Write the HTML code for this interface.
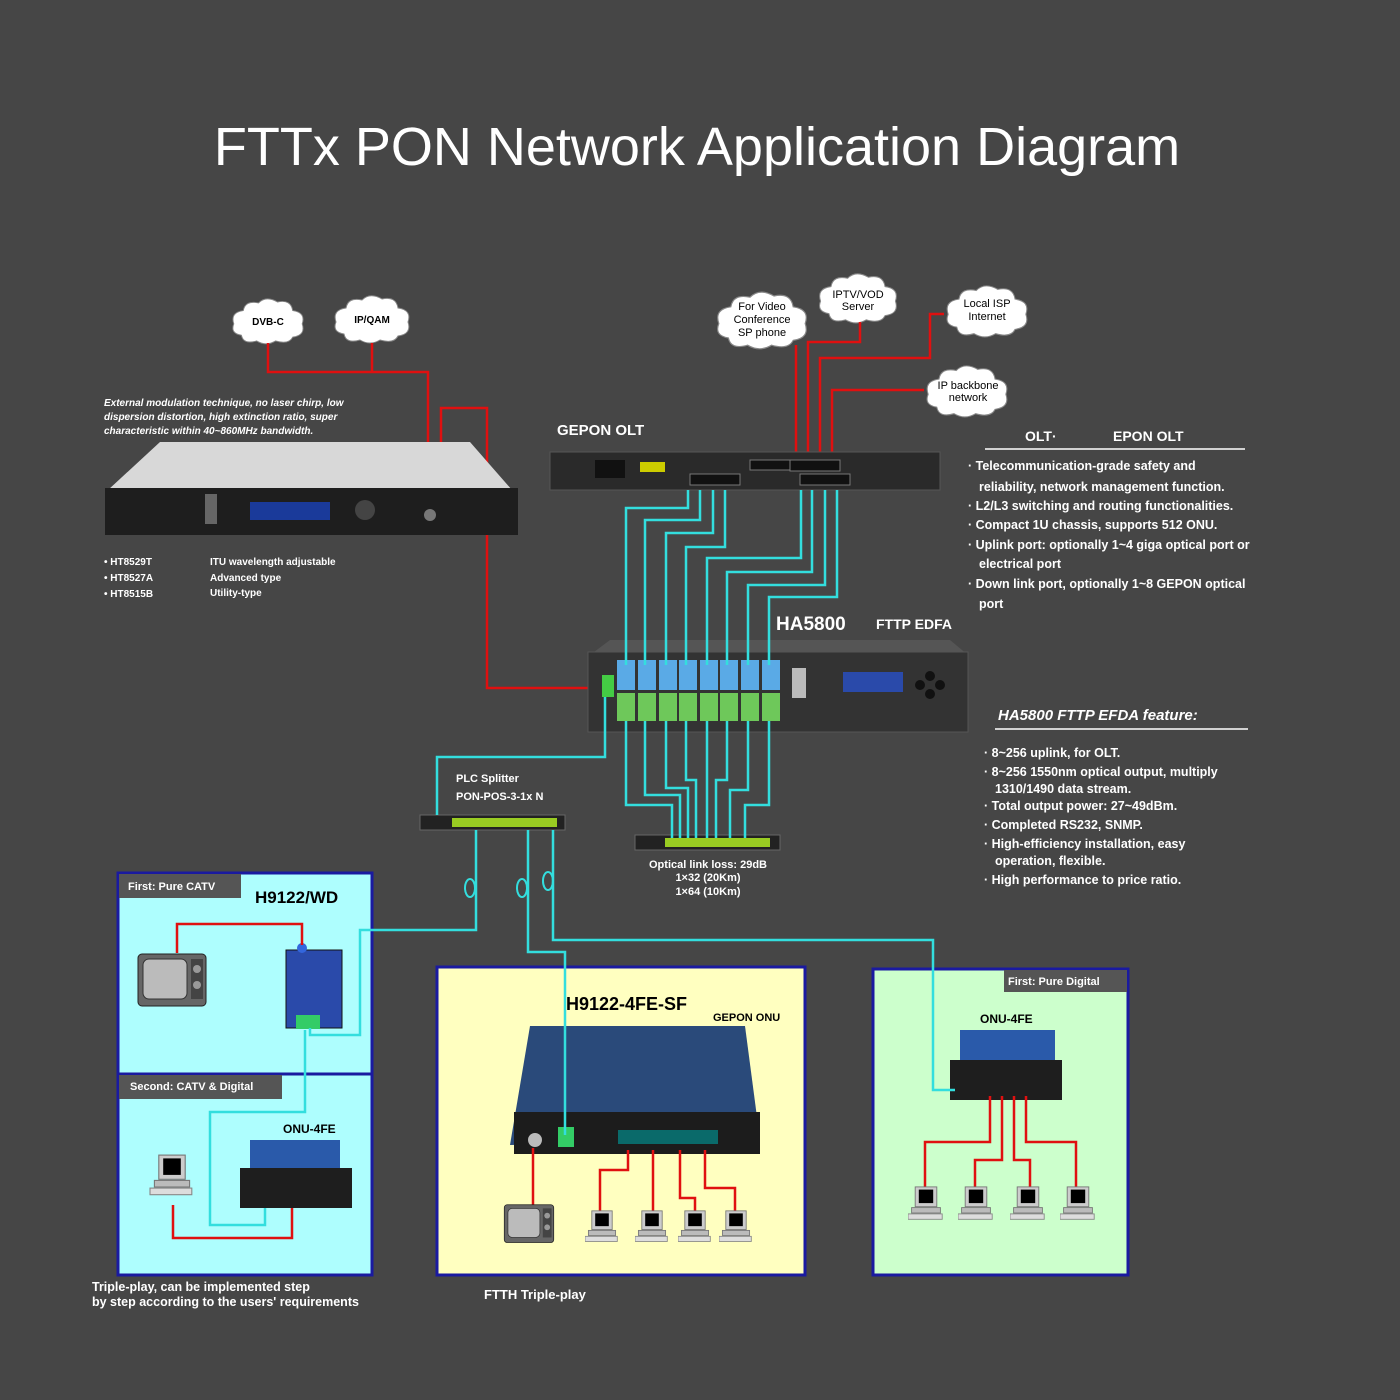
<!DOCTYPE html>
<html><head><meta charset="utf-8"><style>
html,body{margin:0;padding:0;background:#464646;}
svg{display:block}
text{font-family:"Liberation Sans",sans-serif;fill:#fff}
</style></head><body>
<svg width="1400" height="1400" viewBox="0 0 1400 1400" xmlns="http://www.w3.org/2000/svg">
<defs>
<symbol id="tv" viewBox="0 0 70 55"><rect x="1" y="1" width="68" height="52" rx="4" fill="#666" stroke="#222"/><rect x="6" y="6" width="44" height="40" rx="6" fill="#bbb" stroke="#333"/><rect x="54" y="6" width="12" height="40" fill="#444"/><circle cx="60" cy="16" r="4" fill="#999"/><circle cx="60" cy="32" r="4" fill="#999"/></symbol>
<symbol id="pc" viewBox="0 0 40 40"><rect x="8" y="1" width="24" height="22" fill="#ccc" stroke="#777"/><rect x="12" y="4" width="16" height="15" fill="#000"/><rect x="4" y="24" width="32" height="6" fill="#bbb" stroke="#777"/><rect x="0" y="31" width="38" height="6" fill="#ddd" stroke="#888"/></symbol>
<symbol id="cloud" viewBox="0 0 80 50"><path d="M12 40 Q0 38 4 28 Q0 16 14 14 Q16 3 30 6 Q38 -2 50 5 Q64 2 66 14 Q80 16 76 28 Q80 40 66 42 Q62 50 48 46 Q38 52 28 46 Q14 50 12 40Z" fill="#fff" stroke="#888"/></symbol>
</defs>
<rect width="1400" height="1400" fill="#464646"/>
<text x="697" y="165" font-size="54" text-anchor="middle" fill="#fff">FTTx  PON Network Application Diagram</text>

<!-- clouds -->
<use href="#cloud" x="230" y="296" width="76" height="50"/><text x="268" y="325" font-size="10" font-weight="bold" text-anchor="middle" style="fill:#000">DVB-C</text>
<use href="#cloud" x="332" y="294" width="80" height="50"/><text x="372" y="323" font-size="10" font-weight="bold" text-anchor="middle" style="fill:#000">IP/QAM</text>
<use href="#cloud" x="714" y="290" width="96" height="60"/><text x="762" y="310" font-size="11" text-anchor="middle" style="fill:#000">For Video</text><text x="762" y="323" font-size="11" text-anchor="middle" style="fill:#000">Conference</text><text x="762" y="336" font-size="11" text-anchor="middle" style="fill:#000">SP phone</text>
<use href="#cloud" x="814" y="272" width="88" height="52"/><text x="858" y="298" font-size="11" text-anchor="middle" style="fill:#000">IPTV/VOD</text><text x="858" y="310" font-size="11" text-anchor="middle" style="fill:#000">Server</text>
<use href="#cloud" x="940" y="284" width="94" height="54"/><text x="987" y="307" font-size="11" text-anchor="middle" style="fill:#000">Local ISP</text><text x="987" y="320" font-size="11" text-anchor="middle" style="fill:#000">Internet</text>
<use href="#cloud" x="920" y="364" width="94" height="54"/><text x="968" y="389" font-size="11" text-anchor="middle" style="fill:#000">IP backbone</text><text x="968" y="401" font-size="11" text-anchor="middle" style="fill:#000">network</text>

<!-- red lines -->
<g stroke="#e01010" stroke-width="2.5" fill="none">
<path d="M268 343V372H428V442"/><path d="M372 343V372"/>
<path d="M441 442V408H487V688H605"/>
<path d="M796 458V345"/><path d="M808 458V342H860V322"/><path d="M820 458V358H930V314H944"/><path d="M832 458V390H924"/>
</g>

<!-- transmitter -->
<text font-size="10" font-style="italic" font-weight="bold"><tspan x="104" y="406">External modulation technique, no laser chirp, low</tspan><tspan x="104" y="420">dispersion distortion, high extinction ratio, super</tspan><tspan x="104" y="434">characteristic within 40~860MHz bandwidth.</tspan></text>
<polygon points="160,442 470,442 512,490 108,490" fill="#d8d8d8"/>
<rect x="105" y="488" width="413" height="47" fill="#1e1e1e"/>
<rect x="250" y="502" width="80" height="18" fill="#1a3a9a"/>
<circle cx="365" cy="510" r="10" fill="#444"/><circle cx="430" cy="515" r="6" fill="#777"/>
<rect x="205" y="494" width="12" height="30" fill="#666"/>
<g font-size="10" font-weight="bold"><text x="104" y="565">• HT8529T</text><text x="104" y="581">• HT8527A</text><text x="104" y="597">• HT8515B</text><text x="210" y="565">ITU wavelength adjustable</text><text x="210" y="581">Advanced type</text><text x="210" y="596">Utility-type</text></g>

<!-- OLT -->
<text x="557" y="435" font-size="15" font-weight="bold">GEPON  OLT</text>
<rect x="550" y="452" width="390" height="38" fill="#2a2a2a" stroke="#555"/>
<rect x="595" y="460" width="30" height="18" fill="#111"/><rect x="640" y="462" width="25" height="10" fill="#cc0"/>
<g fill="#111" stroke="#777"><rect x="690" y="474" width="50" height="11"/><rect x="790" y="460" width="50" height="11"/><rect x="800" y="474" width="50" height="11"/><rect x="750" y="460" width="40" height="10"/></g>
<text x="1025" y="441" font-size="14" font-weight="bold">OLT·</text><text x="1113" y="441" font-size="14" font-weight="bold">EPON OLT</text>
<line x1="985" y1="449" x2="1245" y2="449" stroke="#fff" stroke-width="1.5"/>
<g font-size="12.5" font-weight="bold"><text x="968" y="470">· Telecommunication-grade safety and</text><text x="979" y="491">reliability, network management function.</text><text x="968" y="510">· L2/L3 switching and routing functionalities.</text><text x="968" y="529">· Compact 1U chassis, supports 512 ONU.</text><text x="968" y="549">· Uplink port: optionally 1~4 giga optical port or</text><text x="979" y="568">electrical port</text><text x="968" y="588">· Down link port, optionally 1~8 GEPON optical</text><text x="979" y="608">port</text></g>

<!-- EDFA -->
<text x="776" y="630" font-size="19" font-weight="bold">HA5800</text><text x="876" y="629" font-size="14" font-weight="bold">FTTP  EDFA</text>
<polygon points="610,640 950,640 968,655 590,655" fill="#555"/>
<rect x="588" y="652" width="380" height="80" fill="#333" stroke="#555"/>
<g>
<rect x="617" y="660" width="18" height="30" fill="#5aaae6"/><rect x="638" y="660" width="18" height="30" fill="#5aaae6"/><rect x="659" y="660" width="18" height="30" fill="#5aaae6"/><rect x="679" y="660" width="18" height="30" fill="#5aaae6"/><rect x="700" y="660" width="18" height="30" fill="#5aaae6"/><rect x="720" y="660" width="18" height="30" fill="#5aaae6"/><rect x="741" y="660" width="18" height="30" fill="#5aaae6"/><rect x="762" y="660" width="18" height="30" fill="#5aaae6"/>
<rect x="617" y="693" width="18" height="28" fill="#6ec85a"/><rect x="638" y="693" width="18" height="28" fill="#6ec85a"/><rect x="659" y="693" width="18" height="28" fill="#6ec85a"/><rect x="679" y="693" width="18" height="28" fill="#6ec85a"/><rect x="700" y="693" width="18" height="28" fill="#6ec85a"/><rect x="720" y="693" width="18" height="28" fill="#6ec85a"/><rect x="741" y="693" width="18" height="28" fill="#6ec85a"/><rect x="762" y="693" width="18" height="28" fill="#6ec85a"/>
<rect x="602" y="675" width="12" height="22" fill="#4c4"/>
</g>
<rect x="792" y="668" width="14" height="30" fill="#bbb"/><rect x="843" y="672" width="60" height="20" fill="#2a4aaa"/>
<circle cx="930" cy="676" r="5" fill="#111"/><circle cx="930" cy="694" r="5" fill="#111"/><circle cx="920" cy="685" r="5" fill="#111"/><circle cx="940" cy="685" r="5" fill="#111"/>

<!-- EDFA feature -->
<text x="998" y="720" font-size="15" font-weight="bold" font-style="italic">HA5800  FTTP  EFDA feature:</text>
<line x1="995" y1="729" x2="1248" y2="729" stroke="#fff" stroke-width="1.5"/>
<g font-size="12.5" font-weight="bold"><text x="984" y="757">· 8~256 uplink, for OLT.</text><text x="984" y="776">· 8~256 1550nm optical output, multiply</text><text x="995" y="793">1310/1490 data stream.</text><text x="984" y="810">· Total output power: 27~49dBm.</text><text x="984" y="829">· Completed RS232, SNMP.</text><text x="984" y="848">· High-efficiency installation, easy</text><text x="995" y="865">operation, flexible.</text><text x="984" y="884">· High performance to price ratio.</text></g>

<!-- splitters -->
<text x="456" y="782" font-size="11" font-weight="bold">PLC  Splitter</text><text x="456" y="800" font-size="11" font-weight="bold">PON-POS-3-1x N</text>
<rect x="420" y="815" width="145" height="15" fill="#222" stroke="#666"/><rect x="452" y="818" width="105" height="9" fill="#9c2"/>
<rect x="635" y="835" width="145" height="15" fill="#222" stroke="#666"/><rect x="665" y="838" width="105" height="9" fill="#9c2"/>
<g font-size="11" font-weight="bold" text-anchor="middle"><text x="708" y="868">Optical link loss: 29dB</text><text x="708" y="881">1×32 (20Km)</text><text x="708" y="895">1×64 (10Km)</text></g>

<!-- left box -->
<rect x="118" y="873" width="254" height="402" fill="#aefefe" stroke="#1a1aa0" stroke-width="3"/>
<line x1="118" y1="1074" x2="372" y2="1074" stroke="#1a1aa0" stroke-width="3"/>
<rect x="119" y="874" width="122" height="24" fill="#555"/><text x="128" y="890" font-size="11" font-weight="bold">First:  Pure  CATV</text>
<rect x="119" y="1075" width="163" height="24" fill="#555"/><text x="130" y="1090" font-size="11" font-weight="bold">Second:  CATV  &amp;  Digital</text>
<text x="255" y="903" font-size="17" font-weight="bold" style="fill:#000">H9122/WD</text>
<text x="283" y="1133" font-size="12" font-weight="bold" style="fill:#000">ONU-4FE</text>
<rect x="286" y="950" width="56" height="78" fill="#2a4aaa" stroke="#111"/><circle cx="302" cy="948" r="5" fill="#36d"/><rect x="296" y="1015" width="24" height="14" fill="#3c6"/>
<use href="#tv" x="137" y="953" width="70" height="55"/>
<rect x="250" y="1140" width="90" height="30" fill="#2a5aaa"/><rect x="240" y="1168" width="112" height="40" fill="#1e1e1e"/>
<use href="#pc" x="146" y="1154" width="52" height="44"/>
<g stroke="#e01010" stroke-width="2.5" fill="none"><path d="M302 945V924H177V953"/><path d="M173 1205V1238H292V1208"/></g>
<text x="92" y="1291" font-size="12.5" font-weight="bold">Triple-play,  can be implemented step</text><text x="92" y="1306" font-size="12.5" font-weight="bold">by step according to the users' requirements</text>

<!-- middle box -->
<rect x="437" y="967" width="368" height="308" fill="#ffffc0" stroke="#1a1aa0" stroke-width="3"/>
<text x="566" y="1010" font-size="18" font-weight="bold" style="fill:#000">H9122-4FE-SF</text>
<text x="713" y="1021" font-size="11" font-weight="bold" style="fill:#000">GEPON ONU</text>
<polygon points="530,1026 745,1026 760,1140 510,1145" fill="#2a4a7a"/>
<rect x="514" y="1112" width="246" height="42" fill="#1c1c1c"/>
<circle cx="535" cy="1140" r="7" fill="#bbb"/><rect x="558" y="1127" width="16" height="20" fill="#3c6"/>
<rect x="618" y="1130" width="100" height="14" fill="#0a6a6a"/>
<g stroke="#e01010" stroke-width="2.5" fill="none"><path d="M533 1148V1205"/><path d="M628 1150V1170H600V1212"/><path d="M653 1150V1212"/><path d="M680 1150V1198H695V1212"/><path d="M705 1150V1188H735V1212"/></g>
<use href="#tv" x="503" y="1204" width="52" height="40"/>
<use href="#pc" x="585" y="1210" width="34" height="34"/><use href="#pc" x="635" y="1210" width="34" height="34"/><use href="#pc" x="678" y="1210" width="34" height="34"/><use href="#pc" x="719" y="1210" width="34" height="34"/>
<text x="484" y="1299" font-size="13" font-weight="bold">FTTH  Triple-play</text>

<!-- right box -->
<rect x="873" y="969" width="255" height="306" fill="#ccffcc" stroke="#1a1aa0" stroke-width="3"/>
<rect x="1004" y="970" width="123" height="22" fill="#555"/><text x="1008" y="985" font-size="11" font-weight="bold">First:  Pure  Digital</text>
<text x="980" y="1023" font-size="12" font-weight="bold" style="fill:#000">ONU-4FE</text>
<rect x="960" y="1030" width="95" height="32" fill="#2a5aaa"/><rect x="950" y="1060" width="112" height="40" fill="#1e1e1e"/>
<g stroke="#e01010" stroke-width="2.5" fill="none"><path d="M990 1096V1142H925V1188"/><path d="M1002 1096V1160H975V1188"/><path d="M1014 1096V1160H1030V1188"/><path d="M1026 1096V1142H1076V1188"/></g>
<use href="#pc" x="908" y="1186" width="36" height="36"/><use href="#pc" x="958" y="1186" width="36" height="36"/><use href="#pc" x="1010" y="1186" width="36" height="36"/><use href="#pc" x="1060" y="1186" width="36" height="36"/>

<!-- cyan lines (on top) -->
<g stroke="#33dede" stroke-width="2.5" fill="none">
<path d="M688 490V508H626V665"/><path d="M700 490V520H645V665"/><path d="M713 490V533H666V665"/><path d="M725 490V547H686V665"/>
<path d="M801 490V558H707V665"/><path d="M812 490V572H727V665"/><path d="M825 490V585H748V665"/><path d="M837 490V597H769V665"/>
<path d="M626 721V805H672V838"/><path d="M645 721V795H680V838"/><path d="M666 721V788H688V838"/><path d="M686 721V780H696V838"/><path d="M707 721V838"/><path d="M727 721V780H716V838"/><path d="M748 721V790H730V838"/><path d="M769 721V805H745V838"/>
<path d="M605 697V757H437V815"/>
<path d="M476 830V930H360V1035H310V1028"/>
<path d="M528 830V952H565V1135"/>
<path d="M553 830V940H933V1090H955"/>
<path d="M305 1030V1112H210V1225H265V1208"/>
</g>
<g stroke="#33dede" stroke-width="2" fill="none"><ellipse cx="470" cy="888" rx="5" ry="9"/><ellipse cx="522" cy="888" rx="5" ry="9"/><ellipse cx="548" cy="881" rx="5" ry="9"/></g>
</svg>
</body></html>
